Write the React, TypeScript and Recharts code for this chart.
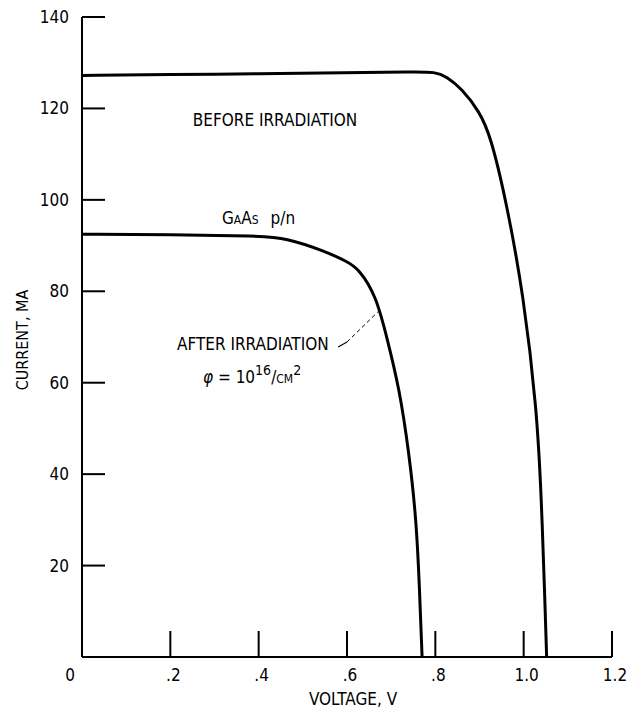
import React from 'react';
import { LineChart, Line, XAxis, YAxis, ReferenceDot, ReferenceLine } from 'recharts';

// before irradiation
const beforeV = [0, 0.2, 0.4, 0.6, 0.75, 0.8, 0.825, 0.86, 0.9, 0.925, 0.96, 1.0, 1.03, 1.04, 1.048, 1.052];
const beforeI = [127.2, 127.4, 127.6, 127.8, 128, 128, 127, 124.3, 119.3, 114, 100, 79, 54, 35, 12.5, 0];

// after irradiation, phi = 1e16/cm2
const afterV = [0, 0.2, 0.4, 0.46, 0.55, 0.6, 0.627, 0.666, 0.69, 0.718, 0.74, 0.757, 0.764, 0.77];
const afterI = [92.5, 92.4, 92.1, 91.7, 88.8, 86.5, 84.9, 79, 70, 59, 45, 30, 15.4, 0];

const xTicks = [0, 0.2, 0.4, 0.6, 0.8, 1.0, 1.2];
const yTicks = [20, 40, 60, 80, 100, 120, 140];

const beforeData = beforeV.map((v, k) => ({ v, i: beforeI[k] }));
const afterData = afterV.map((v, k) => ({ v, i: afterI[k] }));

const FONT = '"Liberation Sans Narrow", "DejaVu Sans Condensed", "Arial Narrow", sans-serif';
const FS = 17;

const fmtX = (v: number) => (v === 0 ? '0' : v < 1 ? v.toFixed(1).replace(/^0/, '') : v.toFixed(1));

const YTick = (props: any) => {
  const { x, y, payload } = props;
  return (
    <g>
      <line x1={x + 12} x2={x + 35} y1={y} y2={y} stroke="#000" strokeWidth={2} />
      <text x={x - 1} y={y} textAnchor="end" dominantBaseline="central" fontFamily={FONT} fontSize={FS} fill="#000">
        {payload.value}
      </text>
    </g>
  );
};

const XTick = (props: any) => {
  const { x, y, payload } = props;
  const dx = payload.value === 0 ? -12 : 3;
  return (
    <g>
      <line x1={x} x2={x} y1={y - 12} y2={y - 38} stroke="#000" strokeWidth={2} />
      <text x={x + dx} y={y} dy="0.71em" textAnchor="middle" fontFamily={FONT} fontSize={FS} fill="#000">
        {fmtX(payload.value)}
      </text>
    </g>
  );
};

const note = (content: React.ReactNode) => ({ viewBox }: any) => (
  <text x={viewBox.x} y={viewBox.y} dominantBaseline="central" fontFamily={FONT} fontSize={FS} fill="#000">
    {content}
  </text>
);

export default function App() {
  return (
    <div style={{ position: 'absolute', left: 0, top: 0, background: '#fff' }}>
      <LineChart width={643} height={712} margin={{ top: 17, right: 31, left: 0, bottom: 0 }}>
        <XAxis
          dataKey="v"
          type="number"
          domain={[0, 1.2]}
          ticks={xTicks}
          height={55}
          tickSize={12}
          tickMargin={0}
          tickLine={false}
          tick={<XTick />}
          axisLine={{ stroke: '#000', strokeWidth: 2 }}
          label={({ viewBox }: any) => (
            <text x={viewBox.x + viewBox.width / 2 + 6} y={699} textAnchor="middle" dominantBaseline="central" fontFamily={FONT} fontSize={FS} fill="#000">
              VOLTAGE, V
            </text>
          )}
        />
        <YAxis
          type="number"
          domain={[0, 140]}
          ticks={yTicks}
          width={82}
          tickSize={12}
          tickMargin={0}
          tickLine={false}
          tick={<YTick />}
          axisLine={{ stroke: '#000', strokeWidth: 2 }}
          label={({ viewBox }: any) => {
            const cy = viewBox.y + viewBox.height / 2 + 3;
            return (
              <text x={22} y={cy} transform={`rotate(-90 22 ${cy})`} textAnchor="middle" dominantBaseline="central" fontFamily={FONT} fontSize={FS - 1} fill="#000">
                CURRENT, MA
              </text>
            );
          }}
        />
        <Line data={beforeData} dataKey="i" type="basis" stroke="#000" strokeWidth={3} dot={false} isAnimationActive={false} />
        <Line data={afterData} dataKey="i" type="basis" stroke="#000" strokeWidth={3} dot={false} isAnimationActive={false} />

        <ReferenceLine segment={[{ x: 0.58, y: 67.8 }, { x: 0.6, y: 68.9 }]} stroke="#000" strokeWidth={1.2} />
        <ReferenceLine segment={[{ x: 0.6, y: 68.9 }, { x: 0.67, y: 75.5 }]} stroke="#000" strokeWidth={1} strokeDasharray="4 3" />

        <ReferenceDot x={0.251} y={117.5} r={0} fill="none" stroke="none" label={{ content: note('BEFORE IRRADIATION') }} />
        <ReferenceDot
          x={0.317}
          y={96}
          r={0}
          fill="none"
          stroke="none"
          label={{
            content: note(
              <>
                <tspan style={{ fontVariant: 'small-caps' }}>GaAs</tspan>
                <tspan dx={12}>p/n</tspan>
              </>
            ),
          }}
        />
        <ReferenceDot x={0.215} y={68.5} r={0} fill="none" stroke="none" label={{ content: note('AFTER IRRADIATION') }} />
        <ReferenceDot
          x={0.274}
          y={61.3}
          r={0}
          fill="none"
          stroke="none"
          label={{
            content: note(
              <>
                <tspan fontStyle="italic">φ</tspan>
                <tspan> = 10</tspan>
                <tspan dy={-7} fontSize={14}>16</tspan>
                <tspan dy={7}>/</tspan>
                <tspan style={{ fontVariant: 'small-caps' }}>cm</tspan>
                <tspan dy={-7} fontSize={14}>2</tspan>
              </>
            ),
          }}
        />
      </LineChart>
    </div>
  );
}
